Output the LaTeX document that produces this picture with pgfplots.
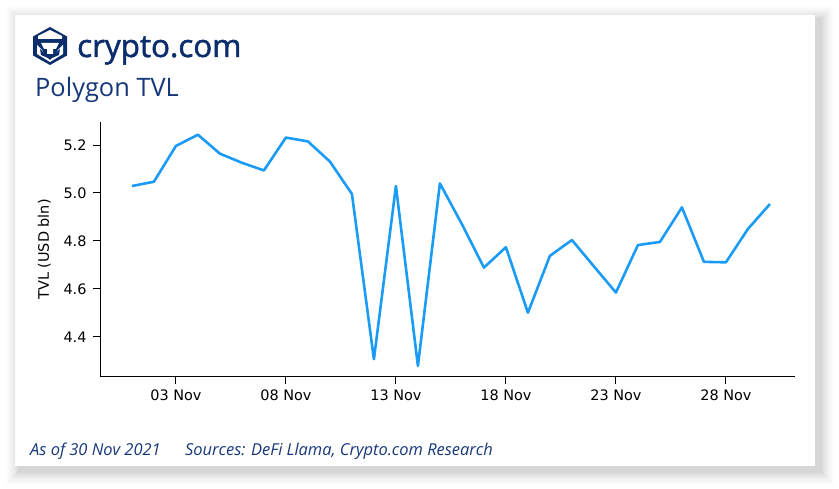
\documentclass[border=0pt]{standalone}
\usepackage{pgfplots}
\pgfplotsset{compat=1.18}
\usepackage{fontspec}
\setmainfont{Open Sans}
\newfontfamily\dejavu{DejaVu Sans}
\newfontfamily\logofont[FakeBold=1.6]{Open Sans}
\definecolor{navy}{HTML}{0B2D6B}
\definecolor{linec}{HTML}{1A9BF5}
\definecolor{txt}{HTML}{17387A}
\begin{document}
\begin{tikzpicture}[x=1bp,y=1bp]
% background and card
\fill[white] (0,0) rectangle (839,489);
\foreach \i/\o in {14/0.012,12/0.015,10/0.018,8/0.022,6/0.026,4/0.03,2/0.035}{
  \fill[black,opacity=\o] (15+5-\i,489-466-5-\i) rectangle (815+5+\i,489-15+\i-5);
}
\fill[white] (15,489-466) rectangle (815,489-15);
% logo
\begin{scope}[shift={(50,489-46)}]
\fill[navy] (0,19) -- (17,9.5) -- (17,-9.5) -- (0,-19) -- (-17,-9.5) -- (-17,9.5) -- cycle;
\fill[white] (-12,7) -- (12,7) -- (12,10) -- (0,16) -- (-12,10) -- cycle;
\fill[white] (-9,3) -- (9,3) -- (6,-3) -- (3,-3) -- (3,-8) -- (-3,-8) -- (-3,-3) -- (-6,-3) -- cycle;
\fill[white] (-13,1) -- (-8,-4) -- (-5,-10) -- (0,-14) -- (5,-10) -- (8,-4) -- (13,1) -- (13,-8) -- (0,-16) -- (-13,-8) -- cycle;
\fill[navy] (-10,-3) -- (-6,-7) -- (-2,-12) -- (-9,-9) -- cycle;
\fill[navy] (10,-3) -- (6,-7) -- (2,-12) -- (9,-9) -- cycle;
\end{scope}
\node[anchor=base west,inner sep=0pt,text=navy,font=\fontsize{31.5}{34}\logofont] at (77,489-57) {crypto.com};
\node[anchor=base west,inner sep=0pt,text=txt,font=\fontsize{25.5}{28}\selectfont] at (35,489-97) {Polygon TVL};
\node[anchor=base west,inner sep=0pt,text=txt,font=\fontsize{16.5}{18}\selectfont\itshape] at (30,489-456) {As of 30 Nov 2021};
\node[anchor=base west,inner sep=0pt,text=txt,font=\fontsize{16.5}{18}\selectfont\itshape] at (185,489-456) {Sources: DeFi Llama, Crypto.com Research};
\begin{axis}[
  at={(100bp,112bp)}, anchor=south west,
  scale only axis, width=695bp, height=255bp,
  xmin=-0.45, xmax=31.14, ymin=4.233, ymax=5.296,
  axis lines=left, axis line style={-, line width=1pt, black},
  tick align=outside, major tick length=7bp,
  tick style={line width=1pt, black},
  xtick={3,8,13,18,23,28},
  xticklabels={03 Nov,08 Nov,13 Nov,18 Nov,23 Nov,28 Nov},
  ytick={4.4,4.6,4.8,5.0,5.2},
  yticklabel style={xshift=-3bp,/pgf/number format/.cd,fixed,fixed zerofill,precision=1},
  /pgf/number format/assume math mode=true,
  ticklabel style={font=\fontsize{14.5}{16}\dejavu},
  xticklabel style={yshift=-2bp},
  ylabel={TVL (USD bln)}, ylabel style={font=\fontsize{14.5}{16}\dejavu, yshift=6bp},
  clip=false,
]
\addplot[linec, line width=2.6pt, line join=round] coordinates {
(1,5.029)(2,5.047)(3,5.196)(4,5.243)(5,5.164)(6,5.126)(7,5.094)(8,5.231)(9,5.215)(10,5.131)
(11,4.996)(12,4.307)(13,5.029)(14,4.279)(15,5.040)(16,4.870)(17,4.689)(18,4.774)(19,4.501)(20,4.738)
(21,4.804)(22,4.694)(23,4.585)(24,4.783)(25,4.796)(26,4.940)(27,4.713)(28,4.711)(29,4.850)(30,4.954)
};
\end{axis}
\end{tikzpicture}
\end{document}
